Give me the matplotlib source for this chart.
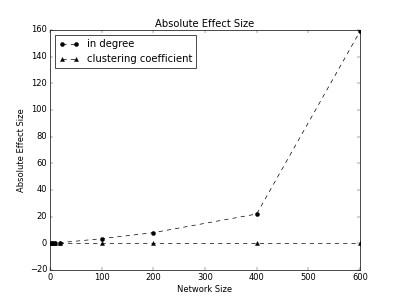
import matplotlib
matplotlib.use('Agg')
import matplotlib.pyplot as plt

plt.style.use('classic')

network_size = [2, 5, 10, 20, 100, 200, 400, 600]
in_degree = [0.1, 0.2, 0.3, 0.5, 3.5, 8.0, 22.0, 159.0]
clustering = [0.0, 0.0, 0.0, 0.0, 0.0, 0.0, 0.0, 0.0]

fig = plt.figure(figsize=(8, 6), dpi=50)
plt.plot(network_size, in_degree, 'k--', marker='o', label='in degree')
plt.plot(network_size, clustering, 'k--', marker='^', label='clustering coefficient')
plt.ylim(-20, 160)
plt.xlim(0, 600)
plt.title('Absolute Effect Size')
plt.xlabel('Network Size')
plt.ylabel('Absolute Effect Size')
plt.legend(loc='upper left')
plt.savefig('out.png', dpi=50)
